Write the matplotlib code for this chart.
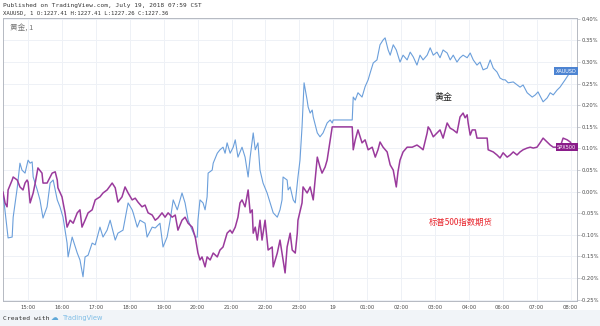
import matplotlib
matplotlib.use("Agg")
import matplotlib.pyplot as plt

plt.rcParams["font.family"] = ["Noto Sans CJK SC", "DejaVu Sans"]

# time axis in hours from 15:00 (05:00-06:00 gap is skipped like TradingView does)
tick_pos = list(range(17))
tick_labels = ["15:00", "16:00", "17:00", "18:00", "19:00", "20:00", "21:00", "22:00",
               "23:00", "19", "01:00", "02:00", "03:00", "04:00", "06:00", "07:00", "08:00"]
y_ticks = [0.40, 0.35, 0.30, 0.25, 0.20, 0.15, 0.10, 0.05, 0.00,
           -0.05, -0.10, -0.15, -0.20, -0.25]

# XAUUSD, % change
gold_t = [-0.74, -0.59, -0.47, -0.44, -0.32, -0.24, -0.18, -0.09, 0.00, 0.06, 0.12, 0.15,
          0.27, 0.35, 0.44, 0.56, 0.65, 0.74, 0.86, 0.94, 1.03, 1.15, 1.18, 1.30, 1.45,
          1.53, 1.62, 1.68, 1.77, 1.89, 1.98, 2.12, 2.21, 2.33, 2.42, 2.57, 2.65, 2.80,
          2.95, 3.07, 3.10, 3.22, 3.30, 3.45, 3.51, 3.66, 3.75, 3.89, 3.98, 4.10, 4.19,
          4.28, 4.40, 4.54, 4.63, 4.72, 4.84, 4.93, 4.99, 5.01, 5.07, 5.16, 5.22, 5.28,
          5.31, 5.43, 5.46, 5.58, 5.66, 5.75, 5.81, 5.87, 5.96, 6.05, 6.11, 6.19, 6.31,
          6.40, 6.49, 6.55, 6.64, 6.70, 6.78, 6.84, 6.93, 7.05, 7.14, 7.23, 7.35, 7.43,
          7.49, 7.52, 7.64, 7.67, 7.73, 7.82, 7.88, 7.96, 8.02, 8.08, 8.14, 8.23, 8.26,
          8.32, 8.38, 8.41, 8.53, 8.61, 8.70, 8.82, 8.91, 8.97, 9.00, 9.56, 9.59, 9.65,
          9.73, 9.85, 9.94, 10.03, 10.09, 10.18, 10.29, 10.38, 10.47, 10.53, 10.62, 10.68,
          10.77, 10.86, 10.97, 11.06, 11.18, 11.27, 11.36, 11.47, 11.56, 11.65, 11.77,
          11.86, 11.95, 12.06, 12.15, 12.24, 12.36, 12.45, 12.54, 12.65, 12.74, 12.83,
          12.95, 13.04, 13.13, 13.24, 13.33, 13.42, 13.54, 13.63, 13.72, 13.83, 13.92,
          14.01, 14.07, 14.16, 14.31, 14.51, 14.60, 14.72, 14.87, 14.96, 15.04, 15.19,
          15.31, 15.40, 15.49, 15.60, 15.69, 15.78, 15.84, 15.99, 16.08]
gold_v = [-0.003, -0.107, -0.105, -0.059, 0.009, 0.066, 0.050, 0.043, 0.073, 0.066, 0.069,
          0.034, 0.004, -0.019, -0.061, -0.035, 0.020, 0.027, -0.019, -0.035, -0.059,
          -0.119, -0.151, -0.105, -0.142, -0.158, -0.197, -0.151, -0.147, -0.119, -0.123,
          -0.082, -0.105, -0.089, -0.066, -0.112, -0.096, -0.089, -0.026, -0.042, -0.049,
          -0.082, -0.066, -0.073, -0.105, -0.082, -0.084, -0.073, -0.128, -0.105, -0.066,
          -0.019, -0.042, -0.003, -0.026, -0.066, -0.089, -0.105, -0.105, -0.066, -0.019,
          -0.026, -0.042, -0.012, 0.043, 0.050, 0.066, 0.089, 0.097, 0.103, 0.089, 0.113,
          0.089, 0.103, 0.120, 0.080, 0.103, 0.080, 0.034, 0.080, 0.136, 0.097, 0.113,
          0.050, 0.020, -0.003, -0.026, -0.049, -0.059, -0.042, -0.019, 0.034, 0.027,
          0.004, 0.011, -0.019, -0.026, 0.034, 0.073, 0.150, 0.252, 0.212, 0.196, 0.182,
          0.189, 0.173, 0.136, 0.127, 0.136, 0.159, 0.166, 0.159, 0.166, 0.166, 0.219,
          0.212, 0.229, 0.219, 0.243, 0.259, 0.275, 0.298, 0.305, 0.340, 0.351, 0.356,
          0.328, 0.316, 0.340, 0.328, 0.300, 0.316, 0.305, 0.323, 0.312, 0.293, 0.316,
          0.305, 0.316, 0.333, 0.316, 0.323, 0.310, 0.328, 0.321, 0.305, 0.316, 0.300,
          0.310, 0.316, 0.310, 0.321, 0.305, 0.293, 0.300, 0.282, 0.286, 0.305, 0.286,
          0.277, 0.263, 0.259, 0.259, 0.252, 0.254, 0.242, 0.247, 0.229, 0.219, 0.224,
          0.231, 0.208, 0.217, 0.229, 0.224, 0.235, 0.242, 0.252, 0.259, 0.277, 0.279]

# SPX500 futures, % change
spx_t = [-0.74, -0.68, -0.62, -0.59, -0.47, -0.44, -0.32, -0.24, -0.15, -0.09, -0.03, 0.00,
         0.06, 0.15, 0.21, 0.29, 0.41, 0.44, 0.56, 0.65, 0.71, 0.80, 0.86, 0.88, 1.00,
         1.09, 1.15, 1.24, 1.33, 1.45, 1.53, 1.59, 1.68, 1.77, 1.89, 1.98, 2.12, 2.21,
         2.33, 2.48, 2.57, 2.65, 2.77, 2.86, 2.95, 3.07, 3.16, 3.24, 3.36, 3.45, 3.54,
         3.66, 3.75, 3.83, 3.95, 4.04, 4.13, 4.25, 4.34, 4.42, 4.54, 4.63, 4.72, 4.84,
         4.93, 5.01, 5.07, 5.13, 5.22, 5.28, 5.37, 5.46, 5.58, 5.66, 5.75, 5.87, 5.96,
         6.02, 6.11, 6.19, 6.25, 6.31, 6.40, 6.49, 6.55, 6.61, 6.64, 6.70, 6.76, 6.84,
         6.90, 6.99, 7.08, 7.20, 7.23, 7.35, 7.43, 7.49, 7.58, 7.64, 7.73, 7.79, 7.88,
         7.94, 7.96, 8.08, 8.11, 8.23, 8.32, 8.41, 8.53, 8.61, 8.67, 8.76, 8.82, 8.91,
         8.97, 9.56, 9.59, 9.65, 9.73, 9.85, 9.94, 10.03, 10.15, 10.24, 10.32, 10.38,
         10.47, 10.59, 10.68, 10.77, 10.86, 10.91, 10.97, 11.06, 11.18, 11.33, 11.47,
         11.56, 11.65, 11.77, 11.80, 11.86, 11.95, 12.06, 12.15, 12.24, 12.36, 12.45,
         12.54, 12.65, 12.74, 12.83, 12.89, 12.95, 12.98, 13.04, 13.10, 13.19, 13.24,
         13.54, 13.57, 13.72, 13.83, 13.92, 14.01, 14.13, 14.22, 14.31, 14.42, 14.51,
         14.60, 14.72, 14.81, 14.90, 15.01, 15.10, 15.19, 15.31, 15.40, 15.49, 15.69,
         15.78, 15.90, 15.99, 16.08]
spx_v = [-0.001, -0.026, -0.035, 0.004, 0.027, 0.034, 0.027, 0.011, 0.004, 0.020, 0.027,
         0.022, -0.026, -0.003, 0.020, 0.055, 0.043, 0.020, 0.020, 0.034, 0.043, 0.046,
         0.027, 0.009, -0.012, -0.049, -0.082, -0.066, -0.073, -0.049, -0.042, -0.082,
         -0.066, -0.049, -0.042, -0.019, -0.012, -0.003, 0.004, 0.020, 0.009, -0.024,
         -0.012, 0.011, -0.003, -0.019, -0.015, -0.024, -0.035, -0.031, -0.049, -0.054,
         -0.066, -0.061, -0.049, -0.059, -0.049, -0.059, -0.054, -0.089, -0.066, -0.059,
         -0.073, -0.082, -0.105, -0.142, -0.158, -0.151, -0.174, -0.151, -0.158, -0.142,
         -0.151, -0.135, -0.128, -0.096, -0.089, -0.096, -0.082, -0.059, -0.026, -0.019,
         -0.035, 0.004, -0.049, -0.042, -0.096, -0.082, -0.112, -0.066, -0.112, -0.066,
         -0.135, -0.128, -0.174, -0.142, -0.112, -0.142, -0.188, -0.128, -0.096, -0.135,
         -0.142, -0.096, -0.066, -0.026, 0.011, -0.003, 0.011, -0.019, 0.080, 0.057,
         0.043, 0.057, 0.073, 0.120, 0.150, 0.150, 0.097, 0.120, 0.143, 0.113, 0.120,
         0.097, 0.103, 0.080, 0.097, 0.115, 0.103, 0.092, 0.062, 0.050, 0.011, 0.046,
         0.073, 0.092, 0.103, 0.103, 0.108, 0.103, 0.097, 0.136, 0.150, 0.143, 0.127,
         0.136, 0.143, 0.124, 0.159, 0.147, 0.143, 0.136, 0.173, 0.182, 0.171, 0.178,
         0.159, 0.131, 0.143, 0.143, 0.124, 0.124, 0.097, 0.092, 0.085, 0.078, 0.090,
         0.080, 0.085, 0.092, 0.085, 0.092, 0.097, 0.101, 0.103, 0.101, 0.103, 0.113,
         0.124, 0.115, 0.108, 0.103, 0.103, 0.124, 0.120, 0.115, 0.103]

gold_color = "#6b9fdb"
spx_color = "#9a3a9c"
grid_color = "#eef1f6"
frame_color = "#b5b9c2"
text_color = "#4a4a4a"

fig = plt.figure(figsize=(6.0, 3.26), dpi=100)
fig.patch.set_facecolor("white")

# footer band
fig.add_artist(plt.Rectangle((0, 0), 1, 16 / 326, transform=fig.transFigure,
                             facecolor="#f1f4f8", edgecolor="none", zorder=0))

ax = fig.add_axes([3 / 600, 25 / 326, 574 / 600, 283 / 326])
ax.plot(gold_t, gold_v, color=gold_color, linewidth=0.8, zorder=3)
ax.plot(spx_t, spx_v, color=spx_color, linewidth=1.1, zorder=4)

ax.set_xlim(-0.74, 16.19)
ax.set_ylim(-0.253, 0.402)
ax.set_xticks(tick_pos)
ax.set_xticklabels(tick_labels, family="DejaVu Sans")
ax.set_yticks(y_ticks)
ax.set_yticklabels(["%.2f%%" % v for v in y_ticks], family="DejaVu Sans")
ax.yaxis.tick_right()
ax.tick_params(axis="both", labelsize=3.8, colors=text_color, length=2, width=0.5,
               color=frame_color, pad=1)
ax.tick_params(axis="x", length=0, pad=3)
ax.grid(True, color=grid_color, linewidth=0.7, zorder=0)
for side in ax.spines.values():
    side.set_color(frame_color)
    side.set_linewidth(0.7)

# last value labels on the right edge
ax.text(16.17, gold_v[-1], "XAUUSD", ha="right", va="center", fontsize=3.6,
        color="white", family="DejaVu Sans", zorder=6,
        bbox=dict(boxstyle="square,pad=0.25", facecolor="#4d84d2", edgecolor="none"))
ax.text(16.17, spx_v[-1], "SPX500", ha="right", va="center", fontsize=3.6,
        color="white", family="DejaVu Sans", zorder=6,
        bbox=dict(boxstyle="square,pad=0.25", facecolor="#8a1c8a", edgecolor="none"))

# annotations
ax.text(12.24, 0.218, "黄金", ha="center", va="center", fontsize=6.5, color="#222222")
ax.text(12.75, -0.071, "标普500指数期货", ha="center", va="center", fontsize=6,
        color="#e8232b")
ax.text(0.012, 0.975, "黄金, 1", transform=ax.transAxes, ha="left", va="top",
        fontsize=5.5, color="#777777")

# header and footer texts
fig.text(3 / 600, 1 - 6 / 326, "Published on TradingView.com, July 19, 2018 07:59 CST",
         ha="left", va="center", fontsize=4.4, family="DejaVu Sans Mono", color="#333333")
fig.text(3 / 600, 1 - 14 / 326, "XAUUSD, 1 O:1227.41 H:1227.41 L:1227.26 C:1227.36",
         ha="left", va="center", fontsize=4.1, family="DejaVu Sans Mono", color="#333333")
fig.text(3 / 600, 8 / 326, "Created with", ha="left", va="center", fontsize=4.6,
         family="DejaVu Sans Mono", color="#333333")
fig.text(51 / 600, 8 / 326, "\u2601", ha="left", va="center", fontsize=5.5,
         family="DejaVu Sans", color="#5fa8d8")
fig.text(63 / 600, 8 / 326, "TradingView", ha="left", va="center", fontsize=4.8,
         family="DejaVu Sans", color="#7fbde6")

fig.savefig("out.png", dpi=100, facecolor=fig.get_facecolor())
